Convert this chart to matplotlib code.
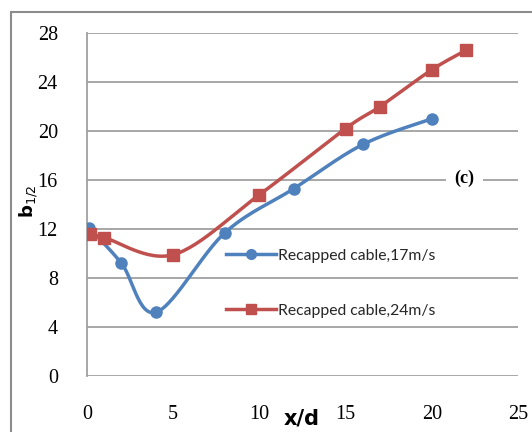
import numpy as np
import matplotlib.pyplot as plt
from matplotlib.patches import Rectangle

# data
x17 = [0.1, 2, 4, 8, 12, 16, 20]
y17 = [12.1, 9.2, 5.2, 11.7, 15.3, 18.9, 21.0]
x24 = [0.2, 1, 5, 10, 15, 17, 20, 22]
y24 = [11.6, 11.3, 9.9, 14.8, 20.2, 22.0, 25.0, 26.6]
labels = ["Recapped cable,17m/s", "Recapped cable,24m/s"]
xticks = [0, 5, 10, 15, 20, 25]
yticks = [0, 4, 8, 12, 16, 20, 24, 28]

blue = "#4F81BD"
red = "#C0504D"


def smooth(xs, ys, n=30):
    # catmull-rom style smoothing like excel's smoothed line
    p = np.column_stack([xs, ys]).astype(float)
    p = np.vstack([p[0], p, p[-1]])
    out = []
    for i in range(1, len(p) - 2):
        p0, p1, p2, p3 = p[i - 1], p[i], p[i + 1], p[i + 2]
        t = np.linspace(0, 1, n)[:, None]
        c1 = p1 + (p2 - p0) / 6
        c2 = p2 - (p3 - p1) / 6
        seg = ((1 - t) ** 3) * p1 + 3 * ((1 - t) ** 2) * t * c1 + 3 * (1 - t) * t ** 2 * c2 + t ** 3 * p2
        out.append(seg)
    out = np.vstack(out)
    return out[:, 0], out[:, 1]


fig = plt.figure(figsize=(5.32, 4.32), dpi=100)
ax = fig.add_axes([87 / 532, 1 - 376 / 432, 431 / 532, 343 / 432])

# outer frame
fig.patches.append(Rectangle((11 / 532, -0.1), 1.2, 1 - 12 / 432 + 0.1, transform=fig.transFigure,
                             fill=False, edgecolor="#8c8c8c", linewidth=1.5))

sx, sy = smooth(x17, y17)
ax.plot(sx, sy, color=blue, lw=2.5, zorder=3)
ax.plot(x17, y17, "o", color=blue, ms=8, zorder=4)
sx, sy = smooth(x24, y24)
ax.plot(sx, sy, color=red, lw=2.5, zorder=3)
ax.plot(x24, y24, "s", color=red, ms=8, zorder=4)

h1, = ax.plot([], [], "-o", color=blue, lw=2.5, ms=7)
h2, = ax.plot([], [], "-s", color=red, lw=2.5, ms=7)
leg = ax.legend([h1, h2], labels, loc="upper left", bbox_to_anchor=(0.322, 0.371),
                frameon=False, handlelength=3.2, handletextpad=0.1, labelspacing=2.6,
                borderpad=0, borderaxespad=0, prop={"family": "Lato", "size": 11.3})
for t in leg.get_texts():
    t.set_color("#262626")

ax.set_xlim(0, 25)
ax.set_ylim(0, 28)
ax.set_xticks(xticks)
ax.set_yticks(yticks)
ax.tick_params(length=0, labelsize=14.5, colors="black")
ax.tick_params(axis="x", pad=21)
ax.tick_params(axis="y", pad=21)
for lab in ax.get_xticklabels() + ax.get_yticklabels():
    lab.set_family("Liberation Serif")
ax.yaxis.grid(True, color="#a0a0a0", lw=1.3)
ax.set_axisbelow(True)
for s in ["top", "right", "bottom"]:
    ax.spines[s].set_visible(False)
ax.spines["left"].set_color("#a0a0a0")
ax.spines["left"].set_linewidth(1.3)

ax.text(21.9, 16.1, "(c)", fontsize=13, fontweight="bold", family="Liberation Serif",
        ha="center", va="center", bbox=dict(facecolor="white", edgecolor="none", pad=6))

fig.text(302 / 532, 1 - 419 / 432, "x/d", fontsize=15, fontweight="bold", ha="center", va="center")
fig.text(29 / 532, 1 - 201 / 432, r"b$_{1/2}$", fontsize=13, fontweight="bold", rotation=90,
         ha="center", va="center")

fig.savefig("out.png", dpi=100)
